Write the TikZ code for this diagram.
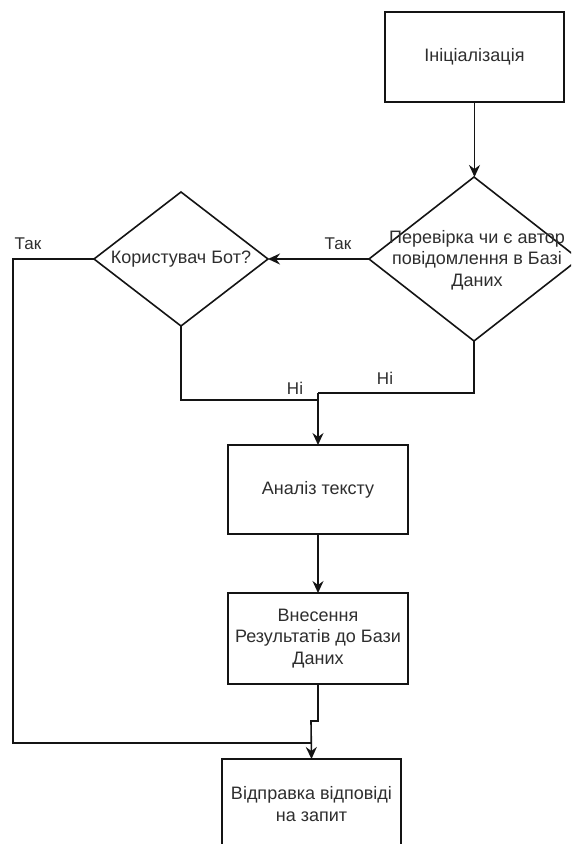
\documentclass[tikz,border=0pt]{standalone}
\usepackage{fontspec}
\setmainfont{Liberation Sans}
\usetikzlibrary{shapes.geometric,arrows.meta}

\tikzset{
  flow/.style={draw=black!92, line width=1.6pt},
  arrow/.style={flow, -{Stealth[length=12pt,width=11pt,inset=4pt]}},
  stepbox/.style={draw=black!92, line width=1.6pt, rectangle, outer sep=0pt,
    inner sep=0pt, align=center, text=black!82,
    font=\fontsize{18}{21.6}\selectfont},
  decision/.style={draw=black!92, line width=1.6pt, diamond, outer sep=0pt,
    inner sep=0pt},
  boxtext/.style={align=center, text=black!82, inner sep=0pt,
    font=\fontsize{18}{21.6}\selectfont},
  lbl/.style={text=black!82, inner sep=0pt, font=\fontsize{17}{20}\selectfont},
}

\begin{document}
\begin{tikzpicture}[x=1pt, y=-1pt]
  \useasboundingbox (0,0) rectangle (571,844);
  \clip (0,0) rectangle (571,844);
  \fill[white] (0,0) rectangle (571,844);

  % process boxes
  \node[stepbox, minimum width=179pt, minimum height=90pt] (init) at (474.5,57) {Ініціалізація};
  \node[stepbox, minimum width=180pt, minimum height=89pt] (an) at (318,489.5) {Аналіз тексту};
  \node[stepbox, minimum width=180pt, minimum height=91pt] (res) at (318,638.5)
    {Внесення\\Результатів до Бази\\Даних};
  \node[stepbox, minimum width=179pt, minimum height=90pt] (send) at (311.5,804)
    {Відправка відповіді\\на запит};

  % decisions
  \node[decision, minimum width=210pt, minimum height=164pt] (q1) at (474,259) {};
  \node[boxtext] (q1t) at (477,260) {Перевірка чи є автор\\повідомлення в Базі\\Даних};
  \node[decision, minimum width=174pt, minimum height=134pt] (q2) at (181,259) {};
  \node[boxtext] (q2t) at (q2.center) {Користувач Бот?};

  % junction points
  \coordinate (j1) at (318,393);
  \coordinate (j2) at (318,400);
  \coordinate (c1) at (13,743);
  \coordinate (j3) at (311,743);
  \coordinate (j4) at (311,721);

  % connectors
  \draw[arrow] (init.south) -- (init.south |- q1.north);
  \draw[arrow] (q1.west) -- (q2.east);
  \draw[flow] (q1.south) |- (j1);
  \draw[flow] (q2.south) |- (j2);
  \draw[arrow] (j1) -- (an.north);
  \draw[arrow] (an.south) -- (res.north);
  \draw[arrow] (res.south) |- (j4) -- (send.north);
  \draw[flow] (q2.west) -| (c1) -- (j3);

  % branch labels
  \node[lbl] (yes1) at (338,244) {Так};
  \node[lbl] (yes2) at (28,244) {Так};
  \node[lbl] (no1) at (385,378) {Ні};
  \node[lbl] (no2) at (295,388) {Ні};
\end{tikzpicture}
\end{document}
